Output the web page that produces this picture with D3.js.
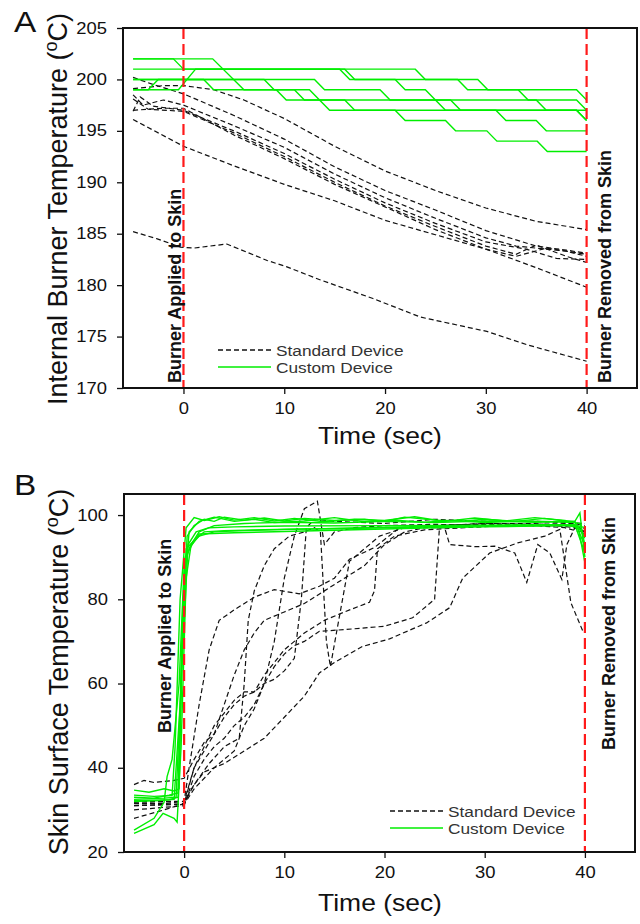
<!DOCTYPE html>
<html>
<head>
<meta charset="utf-8">
<script src="https://cdn.jsdelivr.net/npm/d3@7"></script>
<style>
    body { margin: 0; background: #fff; }
    svg text { font-family: "Liberation Sans", Arial, sans-serif; }
</style>
</head>
<body>
<svg id="chart" width="640" height="924"></svg>
<script>

// ---------------------------------------------------------------
//  DATA  (time in sec, temperature in degC)
// ---------------------------------------------------------------

const timeDomain = [-6, 45];
const timeTicks = [0, 10, 20, 30, 40];
const markerTimes = [0, 40];

const tempTicksA = [170, 175, 180, 185, 190, 195, 200, 205];
const tempTicksB = [20, 40, 60, 80, 100];

const legendLabels = ["Standard Device", "Custom Device"];

// Panel A - standard device (dashed black)
const standardA = [
    [[-5,199.1],[-2,199.4],[0,199.4],[3,199],[6,198],[10,196.2],[15,193.5],[20,191.1],[25,189.2],[30,187.5],[35,186.2],[40,185.4]],
    [[-5,200.2],[-3,199.5],[0,198.6],[5,196.5],[10,194.2],[15,191.5],[20,189.2],[25,187.3],[30,185.3],[35,183.8],[38,183.4],[40,183.1]],
    [[-5,198.5],[-4,197.5],[-2,198.0],[0,197.5],[5,195.5],[10,193.4],[15,190.8],[20,188.5],[25,186.5],[30,184.6],[33,183.8],[36,183.5],[38,183.3],[40,182.8]],
    [[-5,196.9],[-4.3,198.3],[-3,197.4],[0,197.0],[5,195.0],[10,192.8],[15,190.3],[20,188.0],[25,186.0],[30,184.2],[34,183.5],[37,182.6],[40,182.5]],
    [[-5,197.0],[-2,197.2],[0,197.2],[5,194.6],[10,192.3],[15,189.8],[20,187.6],[25,185.4],[30,183.5],[35,181.7],[40,179.8]],
    [[-5,198.1],[-3.5,197.1],[0,196.9],[5,194.8],[10,192.5],[15,190],[20,187.7],[25,185.7],[30,183.8],[33,183.0],[35,183.9],[38,182.8],[40,182.2]],
    [[-5,196.1],[0,193.5],[5,191.6],[10,189.8],[15,188.2],[20,186.3],[25,184.9],[30,183.5],[33,182.8],[36,183.6],[40,183.0]],
    [[-5,185.2],[-2.6,184.5],[-0.3,183.7],[1,183.6],[4.3,184],[8.3,182.4],[10.2,181.8],[13.6,180.5],[18.8,178.7],[23.5,176.9],[30.1,175.5],[34.1,174.2],[40,172.6]]
];

// Panel A - custom device (solid green)
const customA = [
    [[-5,202],[2.9,202],[6,199],[9.2,199],[10.2,198],[13.5,198],[14.5,197],[21,197],[22,196],[26,196],[27,195],[30.1,195],[31.1,194],[35.1,194],[36.1,193],[40,193]],
    [[-5,202],[-1,202],[0,201],[23,201],[24,200],[27.2,200],[28.2,199],[39,199],[40,198]],
    [[-5,201],[15.5,201],[16.5,200],[29.2,200],[30.2,199],[33.2,199],[34.2,198],[39,198],[40,197]],
    [[-5,200],[13,200],[14,199],[19.5,199],[20.5,198],[35,198],[36,197],[40,197]],
    [[-5,199],[-3.5,199],[-2.5,200],[8,200],[9,199],[12.5,199],[13.5,198],[16,198],[17,197],[39,197],[40,196]],
    [[-5,199],[-0.5,199],[1.2,201],[16,201],[17,200],[21,200],[22,199],[24,199],[25,198],[26.5,198],[27.5,197],[39,197],[40,196]],
    [[-5,200],[2,200],[3,199],[11,199],[12,198],[25,198],[26,197],[31,197],[32,196],[35,196],[36,195],[40,195]]
];

// Panel B - standard device (dashed black)
const standardB = [
    [[-5,31.5],[-2,31.5],[0,32],[0.5,40],[1.5,55],[2.5,68],[3.5,75],[5,77.5],[7,80.5],[9,82.3],[11.5,81.3],[13.5,83.1],[15,85],[16.5,89.5],[19,92.3],[21.5,97],[25,97.5],[30,97.8],[35,97.5],[38,97],[39.5,96],[40,97]],
    [[-5,31],[0,31.3],[1,35],[3,40],[5,44],[6,50],[7,54],[8,60],[9,70],[10,85],[11,95],[12,101.5],[13.3,103.3],[14,93],[15,96],[17,97],[20,97.5],[25,97.8],[30,97.5],[35,97.5],[38,97.8],[39.5,97],[40,95]],
    [[-5,31.8],[0,32],[1,36],[2.5,41],[4,45],[5.5,47],[6,60],[6.4,75],[7,82],[8,88],[9,92],[10.5,95],[12,96],[13,97],[13.6,96],[14.2,70],[14.6,64],[15.2,72],[16.5,89],[18,92],[19.5,95],[22,97],[26,97.5],[30,98],[35,97.8],[39,98],[40,97.5]],
    [[-5,36],[-4,37],[-3,36.5],[-1,37],[0,37.5],[1,42],[2,46],[3,48],[4,52],[5,55],[6,57],[7,58],[8,60],[9,61],[10,63],[11,66],[11.7,80],[12.2,97],[13,99],[15,98.5],[20,98],[25,99],[30,98.5],[35,98.5],[40,98]],
    [[-5,30],[0,31],[1,38],[2,42],[3,45],[4,47],[5,50],[6,52],[7,55],[8,60],[9,64],[10,67],[11,69],[12,70],[13.5,72.4],[16,72.8],[20,73.6],[22.8,75.6],[25,80],[25.5,97.5],[30,98],[35,98],[39,97],[40,96]],
    [[-5,28],[-2,30],[0,31.5],[1,40],[2,44],[3,48],[4,55],[5,62],[6,68],[7,72],[8,75],[10,77],[12,79],[14,82],[16,85],[18,88],[20,93],[22,96],[24,97],[26,97],[26.5,93],[29,92.5],[31,92.6],[33,91],[34.2,84],[35.3,93],[36.5,91],[37.7,84.7],[38.2,93],[39,97],[40,96]],
    [[-5,31],[0,31.5],[1,36],[2,39],[3,40],[4,41],[6,44],[8,47],[10,52],[12,57],[13.5,62.5],[15,65],[17.8,68.8],[20.5,70.6],[24.2,74.4],[26.5,78],[27.8,85],[30.5,91],[33.3,93.4],[36,95],[37.5,96.6],[38.6,79.2],[39.8,72.4]],
    [[-5,32],[0,32],[1,40],[2,45],[3,50],[4,53],[5,56],[6,58],[7,58],[8,62],[9,65],[10,68],[12,72],[14,75],[16,77],[18.5,79.3],[19,82],[19.3,92],[21,95],[24,96.5],[28,97],[32,97.5],[36,97.5],[39,97.5],[40,96]]
];

// Panel B - custom device (solid green)
const customB = [
    [[-5,34.7],[-3.5,34.2],[-2,35],[-1,34.5],[-0.5,35],[-0.2,70],[0.3,95],[1,97.5],[2,99],[3,98.5],[4,99.5],[6,98.8],[8,99.3],[10,98.6],[12,99.2],[15,98.7],[18,99],[20,98.5],[22,99.5],[25,98.8],[28,98.6],[30,99],[33,98.5],[36,99.2],[38,98.6],[39,98.5],[39.5,100.5],[40,90]],
    [[-5,33],[-3,32.8],[-1.5,33.5],[-0.6,34],[-0.1,80],[0.5,96],[1.5,98.5],[3,99.5],[5,98.5],[7,99],[9,98.2],[12,98.6],[15,99.4],[18,98.4],[21,98.8],[24,98.3],[27,98.7],[30,98.2],[34,98.6],[37,98.4],[39,98.2],[40,95]],
    [[-5,32.5],[-2,32.8],[-0.8,33],[-0.3,60],[0.2,92],[1,94],[2,96],[4,96.3],[8,96.5],[12,96.7],[16,96.8],[20,97],[25,97.2],[30,97.4],[35,97.5],[39,97.6],[40,97]],
    [[-5,32],[-2.5,32.2],[-1,32.5],[-0.4,55],[0.1,90],[0.8,93],[1.5,95.5],[5,95.8],[10,96.1],[15,96.4],[20,96.7],[25,97],[30,97.2],[35,97.4],[39.3,97.5],[40,88.7]],
    [[-5,24.4],[-3,26.5],[-2.1,29.2],[-1,28],[-0.7,27.1],[-0.3,45],[0.2,85],[0.7,93],[1.5,96],[3,97.5],[6,98],[10,98.3],[15,98.1],[20,98.5],[25,98.2],[30,98.6],[35,98.3],[39,98.5],[40,92.6]],
    [[-5,25.2],[-3,28],[-2,31.8],[-1.7,37.9],[-1.2,42],[-0.5,60],[0,88],[0.6,92.6],[1.5,95],[3,96],[6,96.3],[10,96.6],[15,96.8],[20,97.1],[25,97.3],[30,97.5],[35,97.6],[39,97.7],[40,91]],
    [[-5,33.5],[-3,33.2],[-1.2,33.4],[-0.9,45],[-0.4,80],[0.2,97],[1,99.4],[2,98.7],[3.5,99.6],[5,98.8],[7,99.4],[9,98.6],[11,99.2],[14,98.4],[17,99],[20,98.7],[23,99.6],[26,98.5],[29,99.3],[32,98.6],[35,99.4],[38,98.7],[39.5,98],[40,93]],
    [[-5,32.2],[-1.5,32.4],[-0.6,33],[-0.2,65],[0.4,93],[1.2,96],[2.5,97],[5,97.2],[10,97.4],[20,97.5],[30,97.6],[38,97.7],[39.4,97],[40,94.5]]
];

// ---------------------------------------------------------------
//  DRAWING
// ---------------------------------------------------------------

const svg = d3.select("#chart");
const STRETCH = "scale(1.15,1)";   // the original figure is a bit wide

function drawPanel(p) {

    const x = d3.scaleLinear().domain(timeDomain).range([p.left, p.right]);
    const y = d3.scaleLinear().domain(p.yDomain).range([p.bottom, p.top]);
    const g = svg.append("g");

    // Clip the data to the plot box.
    g.append("clipPath").attr("id", p.id + "-clip")
        .append("rect")
        .attr("x", p.left).attr("y", p.top)
        .attr("width", p.right - p.left).attr("height", p.bottom - p.top);

    const plot = g.append("g").attr("clip-path", `url(#${p.id}-clip)`);
    const line = d3.line().x(d => x(d[0])).y(d => y(d[1]));

    // Standard device traces.
    plot.selectAll(".std")
        .data(p.standard)
        .join("path")
        .attr("class", "std")
        .attr("d", line)
        .attr("fill", "none")
        .attr("stroke", "#111")
        .attr("stroke-width", 1.2)
        .attr("stroke-dasharray", "5,3");

    // Custom device traces.
    plot.selectAll(".cus")
        .data(p.custom)
        .join("path")
        .attr("class", "cus")
        .attr("d", line)
        .attr("fill", "none")
        .attr("stroke", "#00ee00")
        .attr("stroke-width", 1.4);

    // Burner on / off markers.
    plot.selectAll(".marker")
        .data(markerTimes)
        .join("line")
        .attr("class", "marker")
        .attr("x1", d => x(d)).attr("x2", d => x(d))
        .attr("y1", p.top).attr("y2", p.bottom)
        .attr("stroke", "#ff1a1a")
        .attr("stroke-width", 2.2)
        .attr("stroke-dasharray", "11,5");

    // Frame.
    g.append("rect")
        .attr("x", p.left).attr("y", p.top)
        .attr("width", p.right - p.left).attr("height", p.bottom - p.top)
        .attr("fill", "none")
        .attr("stroke", "#111")
        .attr("stroke-width", 2);

    // Axes.
    const xAxis = g.append("g")
        .attr("transform", `translate(0,${p.bottom})`)
        .call(d3.axisBottom(x).tickValues(timeTicks).tickSize(6).tickPadding(9));
    const yAxis = g.append("g")
        .attr("transform", `translate(${p.left},0)`)
        .call(d3.axisLeft(y).tickValues(p.yTicks).tickSize(6).tickPadding(8));

    [xAxis, yAxis].forEach(a => {
        a.select(".domain").remove();
        a.selectAll(".tick line").attr("stroke", "#111").attr("stroke-width", 1.3);
        a.selectAll(".tick text")
            .attr("font-size", 16)
            .attr("fill", "#111")
            .attr("transform", STRETCH);
    });

    // Panel letter.
    g.append("text")
        .attr("transform", `translate(${p.letterX},${p.letterY}) ${STRETCH}`)
        .attr("font-size", 29)
        .attr("fill", "#111")
        .text(p.letter);

    // Y title with superscript "o".
    const yt = g.append("text")
        .attr("transform", `translate(${p.yTitleX},${p.yTitleY}) rotate(-90)`)
        .attr("text-anchor", "middle")
        .attr("font-size", 27)
        .attr("fill", "#111");
    yt.append("tspan").text(p.yTitle + " (");
    yt.append("tspan").attr("dy", -10).attr("font-size", 18).text("o");
    yt.append("tspan").attr("dy", 10).text("C)");

    // X title.
    g.append("text")
        .attr("transform", `translate(${p.xTitleX},${p.xTitleY}) ${STRETCH}`)
        .attr("text-anchor", "middle")
        .attr("font-size", 23)
        .attr("fill", "#111")
        .text("Time (sec)");

    // Vertical annotations beside the markers.
    g.append("text")
        .attr("transform", `translate(${p.onX},${p.onY}) rotate(-90)`)
        .attr("font-size", 18)
        .attr("font-weight", "bold")
        .attr("fill", "#111")
        .text("Burner Applied to Skin");
    g.append("text")
        .attr("transform", `translate(${p.offX},${p.offY}) rotate(-90)`)
        .attr("font-size", 18)
        .attr("font-weight", "bold")
        .attr("fill", "#111")
        .text("Burner Removed from Skin");

    // Legend.
    const lg = g.append("g");
    legendLabels.forEach((lab, i) => {
        const ly = p.legendY + i * 17;
        lg.append("line")
            .attr("x1", p.legendX).attr("x2", p.legendX + 53)
            .attr("y1", ly).attr("y2", ly)
            .attr("stroke", i === 0 ? "#111" : "#00ee00")
            .attr("stroke-width", 1.3)
            .attr("stroke-dasharray", i === 0 ? "5,3" : null);
        lg.append("text")
            .attr("transform", `translate(${p.legendX + 58},${ly + 6}) ${STRETCH}`)
            .attr("font-size", 15)
            .attr("fill", "#333")
            .text(lab);
    });
}

drawPanel({
    id: "a", letter: "A", letterX: 14, letterY: 32,
    left: 123, right: 637, top: 28, bottom: 388,
    yDomain: [170, 205], yTicks: tempTicksA,
    standard: standardA, custom: customA,
    yTitle: "Internal Burner Temperature", yTitleX: 67, yTitleY: 209,
    xTitleX: 380, xTitleY: 444,
    onX: 181, onY: 383, offX: 611, offY: 383,
    legendX: 218, legendY: 350
});

drawPanel({
    id: "b", letter: "B", letterX: 14, letterY: 495,
    left: 124, right: 635, top: 494, bottom: 852,
    yDomain: [20, 105], yTicks: tempTicksB,
    standard: standardB, custom: customB,
    yTitle: "Skin Surface Temperature", yTitleX: 68, yTitleY: 672,
    xTitleX: 380, xTitleY: 911,
    onX: 171, onY: 733, offX: 615, offY: 750,
    legendX: 390, legendY: 811
});

</script>
</body>
</html>
